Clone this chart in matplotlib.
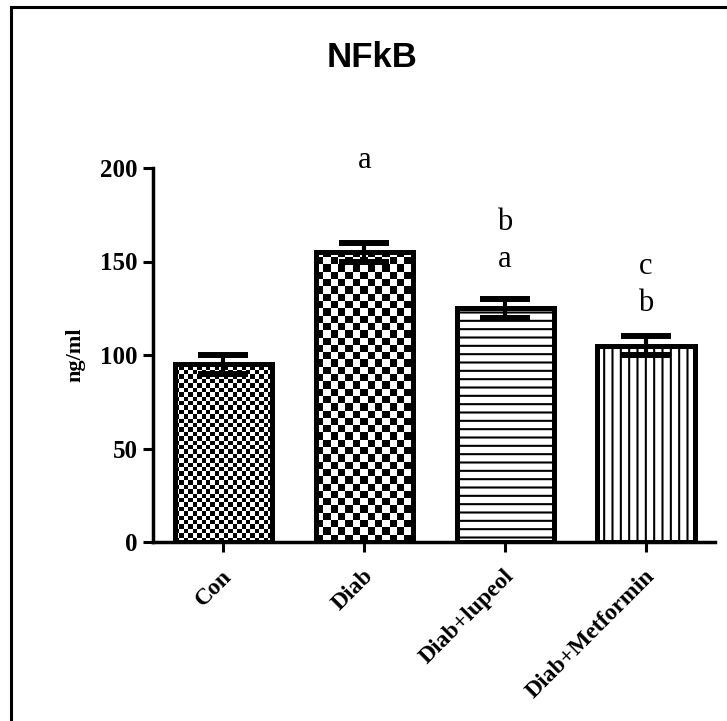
import numpy as np
import matplotlib
matplotlib.use("Agg")
import matplotlib.pyplot as plt
from matplotlib.patches import Rectangle
from matplotlib.transforms import ScaledTranslation

# data
groups = ["Con", "Diab", "Diab+lupeol", "Diab+Metformin"]
means = [95, 155, 125, 105]
errors = [5, 5, 5, 5]
sig_letters = ["", "a", "a", "b"]
sig_letters_top = ["", "", "b", "c"]
sig_y = [0, 200, 147, 123.5]
y_ticks = [0, 50, 100, 150, 200]

plt.rcParams["font.family"] = ["Liberation Serif", "DejaVu Serif"]
plt.rcParams["hatch.linewidth"] = 1.5

W, H = 727, 721
fig = plt.figure(figsize=(W / 100, H / 100), dpi=100)
ax = fig.add_axes([153 / W, 1 - 542 / H, (715 - 153) / W, (542 - 168) / H])

x = np.arange(len(groups))
bw = 0.69

ax.set_xlim(-0.5, 3.49)
ax.set_ylim(0, 200)

bars = ax.bar(x, means, width=bw, color="white", edgecolor="black",
              linewidth=3.6, zorder=2)
bars[2].set_hatch("--")
bars[3].set_hatch("||")

# checkerboard fill for the first two bars
def checker(bar, cell_px):
    p0 = ax.transData.transform((0, 0))
    p1 = ax.transData.transform((1, 1))
    sx, sy = p1[0] - p0[0], p1[1] - p0[1]
    bx, bh, bwid = bar.get_x(), bar.get_height(), bar.get_width()
    nx = int(np.ceil(bwid * sx / cell_px))
    ny = int(np.ceil(bh * sy / cell_px))
    ii, jj = np.indices((ny, nx))
    img = (ii + jj) % 2
    ext = (bx, bx + nx * cell_px / sx, 0, ny * cell_px / sy)
    im = ax.imshow(img, cmap="gray", extent=ext, origin="lower",
                   interpolation="nearest", aspect="auto", zorder=2.5)
    im.set_clip_path(bar)

checker(bars[0], 4.4)
checker(bars[1], 7.3)
ax.bar(x, means, width=bw, fill=False, edgecolor="black", linewidth=3.6, zorder=3)

ax.set_xlim(-0.5, 3.49)
ax.set_ylim(0, 200)

eb = ax.errorbar(x, means, yerr=errors, fmt="none", ecolor="black",
                 elinewidth=3, capsize=18, capthick=4.3, zorder=4)
for c in eb[1]:
    c.set_solid_capstyle("round")

for i in range(len(groups)):
    if sig_letters[i]:
        ax.text(x[i], sig_y[i], sig_letters[i], ha="center", va="baseline",
                fontsize=22, zorder=5)
    if sig_letters_top[i]:
        ax.text(x[i], sig_y[i] + 20, sig_letters_top[i], ha="center",
                va="baseline", fontsize=22, zorder=5)

for s in ["top", "right"]:
    ax.spines[s].set_visible(False)
for s in ["left", "bottom"]:
    ax.spines[s].set_linewidth(2.5)

ax.set_yticks(y_ticks)
ax.set_yticklabels([str(v) for v in y_ticks], fontsize=18, fontweight="bold")
ax.set_xticks(x)
ax.set_xticklabels(groups, fontsize=17, fontweight="bold", rotation=45,
                   ha="right", va="top", rotation_mode="anchor")
ax.tick_params(axis="both", length=7, width=2.2, direction="out")
ax.tick_params(axis="x", pad=10)
ax.tick_params(axis="y", pad=4)
for lab in ax.get_xticklabels():
    lab.set_transform(lab.get_transform() + ScaledTranslation(-2 / 100, 0, fig.dpi_scale_trans))

fig.text(372 / W, 1 - 67 / H, "NFkB", family=["Liberation Sans", "DejaVu Sans"],
         fontsize=25, fontweight="bold", ha="center", va="baseline")
fig.text(75 / W, 1 - 355 / H, "ng/ml", fontsize=16, fontweight="bold",
         rotation=90, ha="center", va="center")

# outer frame of the graph page
fig.patches.append(Rectangle((10.5 / W, -0.1), 1.2, 1 - 7 / H + 0.1,
                             transform=fig.transFigure, fill=False,
                             edgecolor="black", linewidth=2.2, figure=fig))

fig.savefig("out.png", dpi=100)
